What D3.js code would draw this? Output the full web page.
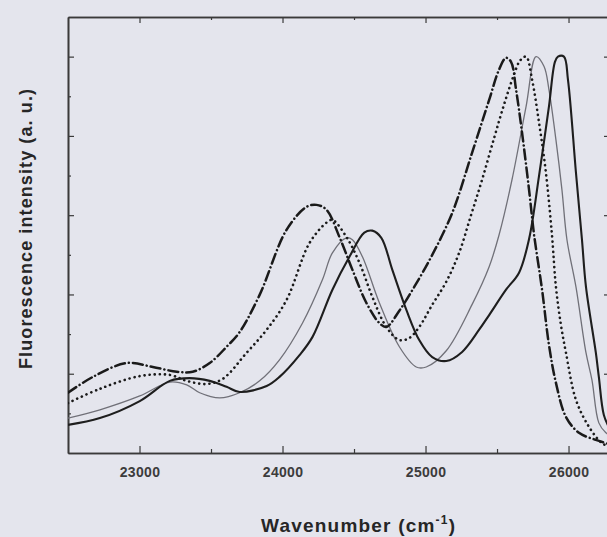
<!DOCTYPE html>
<html>
<head>
<meta charset="utf-8">
<script src="https://cdn.jsdelivr.net/npm/d3@7"></script>
<style>
body { margin: 0; background: #e4e5ed; }
svg { display: block; }
.axis path, .axis line { stroke: #3a3a3a; }
.axis text { fill: #3c3c3c; font-family: Arial, "Liberation Sans", sans-serif; }
</style>
</head>
<body>
<div id="chart"></div>
<script>
// spectra: [wavenumber (cm-1), intensity (a. u.)]
var dashDot = [[22500,0.152],[22674,0.192],[22912,0.227],[23093,0.217],[23261,0.205],[23372,0.205],
    [23491,0.227],[23609,0.268],[23700,0.305],[23840,0.399],[24028,0.563],[24168,0.621],[24238,0.626],
    [24307,0.614],[24398,0.545],[24489,0.462],[24586,0.379],[24677,0.328],[24726,0.318],[24817,0.359],
    [24921,0.419],[25040,0.495],[25187,0.606],[25326,0.758],[25445,0.891],[25514,0.967],
    [25563,0.997],[25598,0.987],[25633,0.917],[25675,0.808],[25724,0.664],[25759,0.551],[25815,0.412],
    [25863,0.273],[25912,0.177],[25982,0.091],[26073,0.051],[26191,0.033],[26290,0.022]];
var dotted = [[22500,0.126],[22723,0.162],[23002,0.194],[23212,0.197],[23330,0.182],[23470,0.174],
    [23582,0.187],[23749,0.253],[23889,0.311],[24028,0.386],[24189,0.530],[24307,0.581],[24349,0.588],
    [24447,0.545],[24538,0.480],[24628,0.394],[24726,0.318],[24817,0.285],[24886,0.290],[24956,0.318],
    [25047,0.374],[25145,0.432],[25235,0.505],[25319,0.601],[25396,0.690],[25480,0.795],[25549,0.879],
    [25619,0.955],[25661,0.990],[25703,1.000],[25745,0.942],[25794,0.833],[25842,0.707],[25884,0.551],
    [25912,0.419],[25947,0.323],[25982,0.253],[26052,0.134],[26143,0.066],[26233,0.025],[26290,0.015]];
var thinGrey = [[22500,0.088],[22723,0.109],[23002,0.144],[23212,0.179],[23330,0.172],[23421,0.152],
    [23561,0.139],[23700,0.152],[23840,0.182],[23979,0.235],[24140,0.328],[24279,0.437],[24349,0.505],
    [24447,0.543],[24489,0.538],[24559,0.495],[24677,0.379],[24817,0.268],[24935,0.217],[25005,0.217],
    [25145,0.258],[25326,0.375],[25445,0.470],[25514,0.550],[25605,0.690],[25703,0.874],[25773,1.000],
    [25829,0.975],[25863,0.917],[25912,0.790],[25954,0.664],[25989,0.538],[26052,0.419],[26122,0.253],
    [26164,0.184],[26212,0.076],[26261,0.051],[26290,0.045]];
var thickSolid = [[22500,0.071],[22723,0.088],[23002,0.131],[23212,0.182],[23351,0.189],[23491,0.182],
    [23609,0.167],[23700,0.154],[23889,0.169],[23979,0.192],[24119,0.247],[24210,0.293],[24349,0.412],
    [24468,0.495],[24572,0.556],[24628,0.561],[24691,0.543],[24768,0.462],[24866,0.361],[24956,0.285],
    [25047,0.242],[25145,0.232],[25256,0.255],[25375,0.311],[25445,0.348],[25563,0.412],[25654,0.455],
    [25724,0.540],[25794,0.700],[25863,0.874],[25905,0.987],[25926,1.000],[25968,1.000],[25996,0.942],
    [26052,0.707],[26094,0.538],[26122,0.419],[26191,0.253],[26212,0.192],[26247,0.096],[26290,0.060]];

var xMajorTicks = [23000, 24000, 25000, 26000];
var xMinorTicks = [23500, 24500, 25500];
var yMajorTicks = [0.2, 0.4, 0.6, 0.8, 1.0];
var yMinorTicks = [0.1, 0.3, 0.5, 0.7, 0.9];
var xDomain = [22500, 26290];
var yDomain = [0, 1.1];

var svgWidth = 607;
var svgHeight = 537;
var margin = { top: 17, right: 0, bottom: 84, left: 68 };
var chartWidth = 542;
var chartHeight = svgHeight - margin.top - margin.bottom;

var svg = d3.select("#chart")
    .append("svg")
    .attr("width", svgWidth)
    .attr("height", svgHeight);

var chartGroup = svg.append("g")
    .attr("transform", `translate(${margin.left}, ${margin.top})`);

var xLinearScale = d3.scaleLinear().domain(xDomain).range([0, chartWidth]);
var yLinearScale = d3.scaleLinear().domain(yDomain).range([chartHeight, 0]);

// frame axes, ticks pointing inward
function addAxis(axis, transform, values, size, fmt) {
    var g = chartGroup.append("g")
        .attr("class", "axis")
        .attr("transform", transform)
        .call(axis.tickValues(values).tickSizeInner(size).tickSizeOuter(0).tickFormat(fmt));
    g.select(".domain").attr("stroke-width", 1.6);
    g.selectAll(".tick line").attr("stroke-width", 1.2);
    return g;
}
var noLabel = () => "";

var bottom = addAxis(d3.axisBottom(xLinearScale), `translate(0, ${chartHeight})`, xMajorTicks, -7, d3.format("d"));
bottom.selectAll(".tick text")
    .attr("font-size", 14)
    .attr("font-weight", "bold")
    .attr("letter-spacing", 0.3)
    .attr("dy", "0.45em")
    .attr("y", 18);
addAxis(d3.axisBottom(xLinearScale), `translate(0, ${chartHeight})`, xMinorTicks, -4, noLabel);
addAxis(d3.axisTop(xLinearScale), "translate(0, 0)", xMajorTicks, -6, noLabel);
addAxis(d3.axisTop(xLinearScale), "translate(0, 0)", xMinorTicks, -3, noLabel);
addAxis(d3.axisLeft(yLinearScale), "translate(0, 0)", yMajorTicks, -6, noLabel);
addAxis(d3.axisLeft(yLinearScale), "translate(0, 0)", yMinorTicks, -3, noLabel);
addAxis(d3.axisRight(yLinearScale), `translate(${chartWidth}, 0)`, yMajorTicks, -6, noLabel);
addAxis(d3.axisRight(yLinearScale), `translate(${chartWidth}, 0)`, yMinorTicks, -3, noLabel);

// spectra
var line = d3.line()
    .x(d => xLinearScale(d[0]))
    .y(d => yLinearScale(d[1]))
    .curve(d3.curveCatmullRom.alpha(0.5));

var series = [
    { data: thinGrey, stroke: "#707078", width: 1.3, dash: null, cap: "butt" },
    { data: thickSolid, stroke: "#1e1e1e", width: 2.1, dash: null, cap: "butt" },
    { data: dotted, stroke: "#1a1a1a", width: 2.6, dash: "0.1,5", cap: "round" },
    { data: dashDot, stroke: "#1a1a1a", width: 2.5, dash: "10,4,0.1,4", cap: "round" }
];

chartGroup.append("clipPath").attr("id", "plotClip")
    .append("rect").attr("width", chartWidth).attr("height", chartHeight);

chartGroup.append("g")
    .attr("clip-path", "url(#plotClip)")
    .selectAll("path")
    .data(series)
    .enter()
    .append("path")
    .attr("d", d => line(d.data))
    .attr("fill", "none")
    .attr("stroke", d => d.stroke)
    .attr("stroke-width", d => d.width)
    .attr("stroke-dasharray", d => d.dash)
    .attr("stroke-linecap", d => d.cap)
    .attr("stroke-linejoin", "round");

// axis titles
var xTitle = svg.append("text")
    .attr("x", 358)
    .attr("y", 532)
    .attr("text-anchor", "middle")
    .attr("font-family", "Arial, 'Liberation Sans', sans-serif")
    .attr("font-weight", "bold")
    .attr("font-size", 19)
    .attr("textLength", 194)
    .attr("lengthAdjust", "spacing")
    .attr("fill", "#262626");
xTitle.append("tspan").text("Wavenumber (cm");
xTitle.append("tspan").attr("font-size", 12).attr("dy", -8).text("-1");
xTitle.append("tspan").attr("dy", 8).text(")");

svg.append("text")
    .attr("transform", "translate(32, 229) rotate(-90)")
    .attr("text-anchor", "middle")
    .attr("font-family", "Arial, 'Liberation Sans', sans-serif")
    .attr("font-weight", "bold")
    .attr("font-size", 18)
    .attr("textLength", 280)
    .attr("lengthAdjust", "spacing")
    .attr("fill", "#262626")
    .text("Fluorescence intensity (a. u.)");
</script>
</body>
</html>
